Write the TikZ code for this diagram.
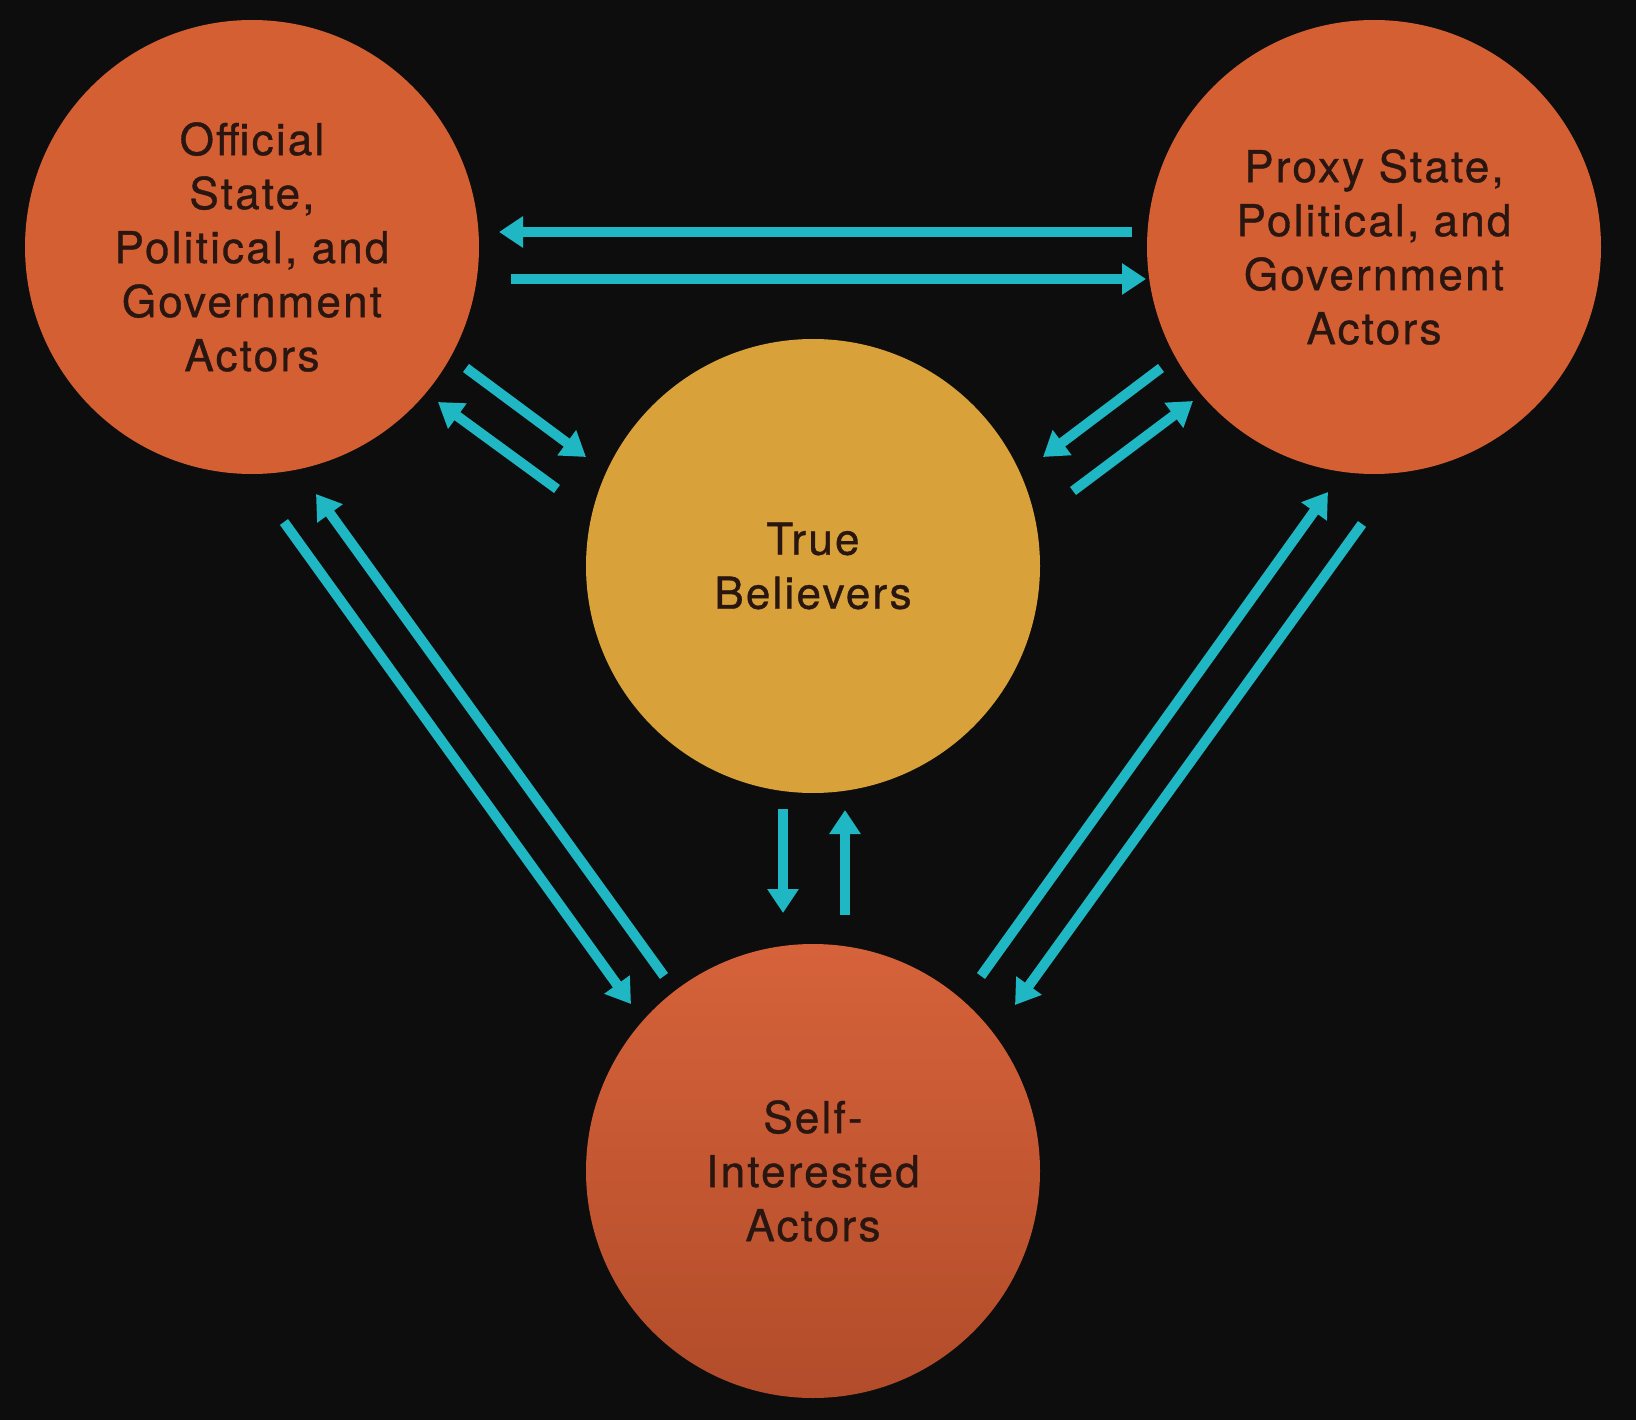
\documentclass[tikz,border=0pt]{standalone}
\usepackage{fontspec}
\setmainfont{TeX Gyre Heros}[LetterSpace=5,FakeBold=0.8]
\usetikzlibrary{arrows.meta}
\definecolor{bg}{HTML}{0D0D0D}
\definecolor{orangec}{HTML}{D45F33}
\definecolor{orangetop}{HTML}{D5623A}
\definecolor{orangebot}{HTML}{B24C2A}
\definecolor{goldc}{HTML}{D9A13A}
\definecolor{cyanc}{HTML}{1FB7C3}
\definecolor{txt}{HTML}{2A1610}
\tikzset{
  actor/.style={circle, minimum size=454pt, inner sep=0pt, align=center,
    text=txt, font=\fontsize{44}{54}\selectfont},
  arr/.style={draw=cyanc, line width=10pt, -{Triangle[length=24pt,width=30pt]}}
}
\begin{document}
\begin{tikzpicture}[x=1pt,y=-1pt]
\path[fill=bg, use as bounding box] (0,0) rectangle (1636,1420);
\node[actor, fill=orangec] (TL) at (252,247) {Official\\State,\\Political, and\\Government\\Actors};
\node[actor, fill=orangec] (TR) at (1374,247) {Proxy State,\\Political, and\\Government\\Actors};
\node[actor, fill=goldc] (MID) at (813,566) {True\\Believers};
\node[actor, top color=orangetop, bottom color=orangebot] (BOT) at (813,1171) {Self-\\Interested\\Actors};
% TL <-> TR
\coordinate (h1s) at (1132,232); \coordinate (h1e) at (499,232);
\coordinate (h2s) at (511,279);  \coordinate (h2e) at (1146,279);
\draw[arr] (h1s) -- (h1e);
\draw[arr] (h2s) -- (h2e);
% TL <-> MID
\coordinate (a1s) at (466,368); \coordinate (a1e) at (586,457);
\coordinate (a2s) at (557,489); \coordinate (a2e) at (438,402);
\draw[arr] (a1s) -- (a1e);
\draw[arr] (a2s) -- (a2e);
% TR <-> MID
\coordinate (b1s) at (1161,368); \coordinate (b1e) at (1043,457);
\coordinate (b2s) at (1073,491); \coordinate (b2e) at (1193,401);
\draw[arr] (b1s) -- (b1e);
\draw[arr] (b2s) -- (b2e);
% MID <-> BOT
\coordinate (v1s) at (783,809); \coordinate (v1e) at (783,913);
\coordinate (v2s) at (845,915); \coordinate (v2e) at (845,810);
\draw[arr] (v1s) -- (v1e);
\draw[arr] (v2s) -- (v2e);
% TL <-> BOT
\coordinate (c1s) at (284,522); \coordinate (c1e) at (631,1004);
\coordinate (c2s) at (664,976); \coordinate (c2e) at (316,494);
\draw[arr] (c1s) -- (c1e);
\draw[arr] (c2s) -- (c2e);
% TR <-> BOT
\coordinate (d1s) at (981,976);  \coordinate (d1e) at (1328,492);
\coordinate (d2s) at (1362,524); \coordinate (d2e) at (1015,1005);
\draw[arr] (d1s) -- (d1e);
\draw[arr] (d2s) -- (d2e);
\end{tikzpicture}
\end{document}
